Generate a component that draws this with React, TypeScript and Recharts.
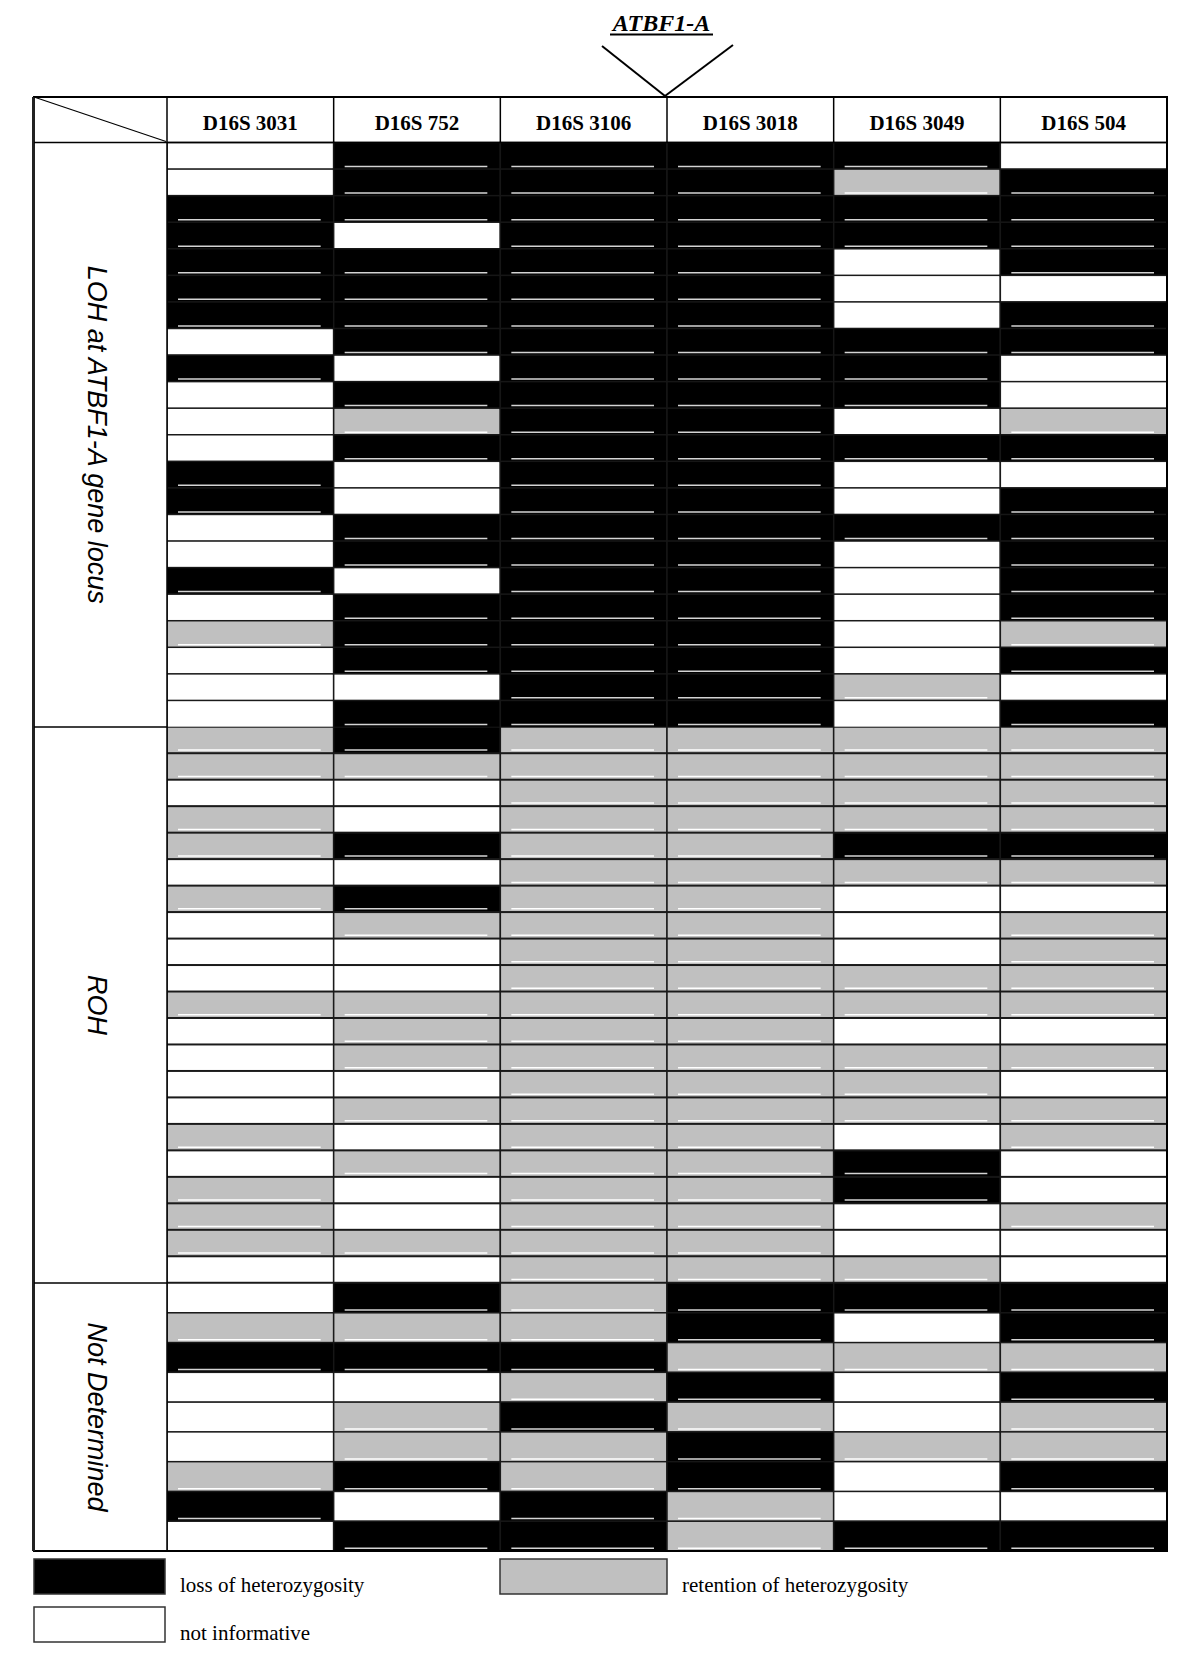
import { Bar, BarChart, XAxis, YAxis } from "recharts";

const markers = ["D16S 3031", "D16S 752", "D16S 3106", "D16S 3018", "D16S 3049", "D16S 504"];

// one string per tumour, one letter per marker:
// L = loss of heterozygosity, R = retention of heterozygosity, N = not informative
const lohRows = [
  "NLLLLN",
  "NLLLRL",
  "LLLLLL",
  "LNLLLL",
  "LLLLNL",
  "LLLLNN",
  "LLLLNL",
  "NLLLLL",
  "LNLLLN",
  "NLLLLN",
  "NRLLNR",
  "NLLLLL",
  "LNLLNN",
  "LNLLNL",
  "NLLLLL",
  "NLLLNL",
  "LNLLNL",
  "NLLLNL",
  "RLLLNR",
  "NLLLNL",
  "NNLLRN",
  "NLLLNL",
];

const rohRows = [
  "RLRRRR",
  "RRRRRR",
  "NNRRRR",
  "RNRRRR",
  "RLRRLL",
  "NNRRRR",
  "RLRRNN",
  "NRRRNR",
  "NNRRNR",
  "NNRRRR",
  "RRRRRR",
  "NRRRNN",
  "NRRRRR",
  "NNRRRN",
  "NRRRRR",
  "RNRRNR",
  "NRRRLN",
  "RNRRLN",
  "RNRRNR",
  "RRRRNN",
  "NNRRRN",
];

const ndRows = [
  "NLRLLL",
  "RRRLNL",
  "LLLRRR",
  "NNRLNL",
  "NRLRNR",
  "NRRLRR",
  "RLRLNL",
  "LNLRNN",
  "NLLRLL",
];

const groupLabels = ["LOH at ATBF1-A gene locus", "ROH", "Not Determined"];

const legendItems = [
  { state: "L", label: "loss of heterozygosity" },
  { state: "R", label: "retention of heterozygosity" },
  { state: "N", label: "not informative" },
];

const geneLabel = "ATBF1-A";

// layout
const LEFT = 34;
const GRID_X = 167;
const RIGHT = 1167;
const TABLE_TOP = 97;
const HEADER_H = 45.5;
const groupTops = [142.5, 727, 1283, 1551];
const GRID_W = RIGHT - GRID_X;
const COL_W = GRID_W / markers.length;

const fills: Record<string, string> = { L: "#000000", R: "#c0c0c0", N: "#ffffff" };

const serif = "'Liberation Serif', 'Times New Roman', serif";
const sans = "'Liberation Sans', Arial, sans-serif";

function makeShape(col: number) {
  return (props: any) => {
    const { x, y, width, height, payload } = props;
    const s = payload.cells[col];
    return (
      <g>
        <rect
          x={x}
          y={y}
          width={width}
          height={height}
          fill={fills[s]}
          stroke={s === "L" ? "#161616" : "#1a1a1a"}
          strokeWidth={1.5}
        />
        {s !== "N" && (
          <line
            x1={x + 11}
            x2={x + width - 13}
            y1={y + height - 3}
            y2={y + height - 3}
            stroke={s === "L" ? "#d4d4d4" : "#ffffff"}
            strokeWidth={1.5}
          />
        )}
      </g>
    );
  };
}

function HeaderTick(props: any) {
  const { x, payload } = props;
  return (
    <text x={x} y={33} textAnchor="middle" fontFamily={serif} fontWeight="bold" fontSize={21} fill="#000">
      {markers[Math.floor(payload.value)]}
    </text>
  );
}

function GroupChart({ rows, height, header }: { rows: string[]; height: number; header?: boolean }) {
  const data = rows.map((r, i) => ({ id: i, cells: r, c0: 1, c1: 1, c2: 1, c3: 1, c4: 1, c5: 1 }));
  return (
    <BarChart
      layout="vertical"
      width={GRID_W}
      height={height + (header ? HEADER_H : 0)}
      data={data}
      margin={{ top: 0, right: 0, bottom: 0, left: 0 }}
      barCategoryGap={0}
      barGap={0}
    >
      <XAxis
        type="number"
        domain={[0, markers.length]}
        orientation="top"
        hide={!header}
        height={header ? HEADER_H : 0}
        ticks={markers.map((_, i) => i + 0.5)}
        interval={0}
        axisLine={false}
        tickLine={false}
        tick={(p: any) => <HeaderTick {...p} />}
      />
      <YAxis type="category" dataKey="id" hide width={0} />
      {markers.map((m, j) => (
        <Bar key={m} dataKey={`c${j}`} stackId="grid" isAnimationActive={false} shape={makeShape(j)} />
      ))}
    </BarChart>
  );
}

export default function App() {
  const groups = [lohRows, rohRows, ndRows];
  const bottom = groupTops[3];
  return (
    <div style={{ position: "absolute", left: 0, top: 0, width: 1200, height: 1665, background: "#fff" }}>
      {groups.map((rows, g) => {
        const top = g === 0 ? TABLE_TOP : groupTops[g];
        const h = groupTops[g + 1] - groupTops[g];
        return (
          <div key={g} style={{ position: "absolute", left: GRID_X, top }}>
            <GroupChart rows={rows} height={h} header={g === 0} />
          </div>
        );
      })}

      <svg
        width={1200}
        height={1665}
        style={{ position: "absolute", left: 0, top: 0, pointerEvents: "none" }}
      >
        {/* gene label with arrow */}
        <text x={661.5} y={31} textAnchor="middle" fontFamily={serif} fontStyle="italic" fontWeight="bold" fontSize={24} fill="#000">
          {geneLabel}
        </text>
        <line x1={610} x2={713} y1={34.5} y2={34.5} stroke="#000" strokeWidth={2} />
        <line x1={602} y1={46} x2={665} y2={96} stroke="#000" strokeWidth={2} />
        <line x1={733} y1={45} x2={665} y2={96} stroke="#000" strokeWidth={2} />

        {/* table frame */}
        <rect x={LEFT} y={TABLE_TOP} width={RIGHT - LEFT} height={bottom - TABLE_TOP} fill="none" stroke="#000" strokeWidth={2} />
        <line x1={LEFT - 0.5} x2={LEFT - 0.5} y1={TABLE_TOP} y2={bottom} stroke="#222" strokeWidth={3} />
        <line x1={LEFT} x2={RIGHT} y1={groupTops[0]} y2={groupTops[0]} stroke="#000" strokeWidth={1.5} />
        <line x1={GRID_X} x2={GRID_X} y1={TABLE_TOP} y2={bottom} stroke="#000" strokeWidth={1.5} />
        {markers.slice(1).map((m, j) => (
          <line
            key={m}
            x1={GRID_X + (j + 1) * COL_W}
            x2={GRID_X + (j + 1) * COL_W}
            y1={TABLE_TOP}
            y2={groupTops[0]}
            stroke="#000"
            strokeWidth={1.5}
          />
        ))}
        {groupTops.slice(1, 3).map((y) => (
          <line key={y} x1={LEFT} x2={GRID_X} y1={y} y2={y} stroke="#000" strokeWidth={1.5} />
        ))}
        <line x1={LEFT} y1={TABLE_TOP} x2={GRID_X - 1} y2={groupTops[0] - 1} stroke="#000" strokeWidth={1.2} />

        {/* group labels */}
        {groupLabels.map((label, g) => {
          const cy = (groupTops[g] + groupTops[g + 1]) / 2;
          return (
            <text
              key={label}
              transform={`translate(88, ${cy}) rotate(90)`}
              textAnchor="middle"
              fontFamily={sans}
              fontStyle="italic"
              fontSize={27}
              fill="#000"
            >
              {label}
            </text>
          );
        })}

        {/* legend */}
        {legendItems.map((item, i) => {
          const bx = i === 1 ? 500 : LEFT;
          const bw = i === 1 ? 167 : 131;
          const by = i === 2 ? 1607 : 1559;
          return (
            <g key={item.label}>
              <rect x={bx} y={by} width={bw} height={35} fill={fills[item.state]} stroke="#333" strokeWidth={1.5} />
              <text x={bx + bw + 15} y={by + 33} fontFamily={serif} fontSize={21} fill="#000">
                {item.label}
              </text>
            </g>
          );
        })}
      </svg>
    </div>
  );
}
